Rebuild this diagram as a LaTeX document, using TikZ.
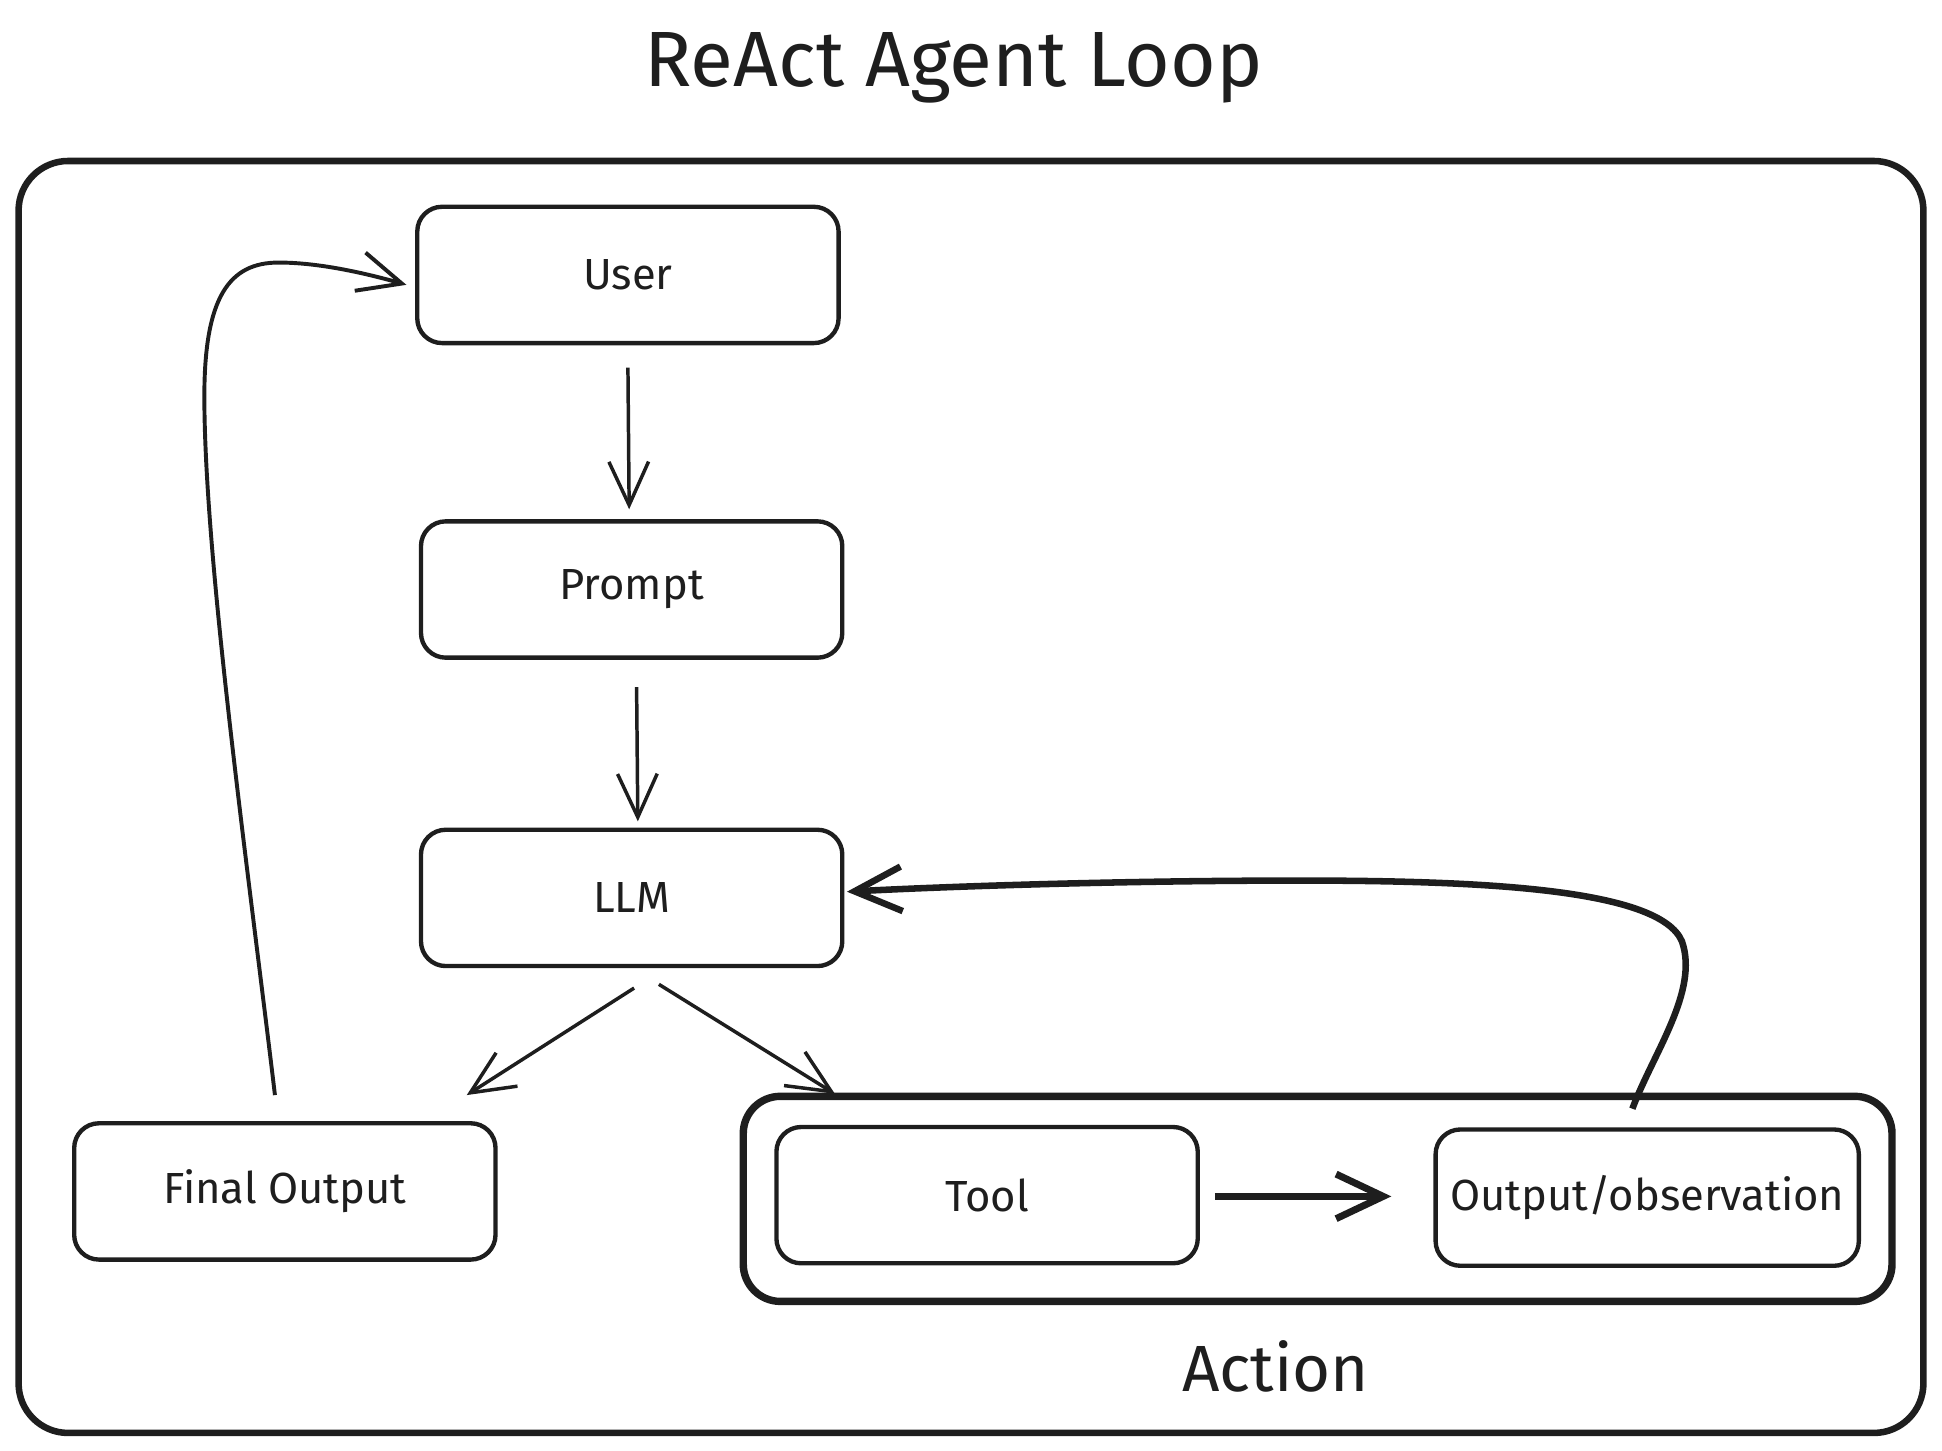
\documentclass[tikz,border=0pt]{standalone}
\usepackage{fontspec}
\setmainfont{Fira Sans}
\usetikzlibrary{arrows.meta,calc,fit}
\definecolor{ink}{HTML}{1E1E1E}

\begin{document}
\begin{tikzpicture}[x=0.01cm,y=-0.01cm,line width=1pt,color=ink,
    box/.style={draw,rounded corners=0.2cm,minimum width=3.4cm,minimum height=1.1cm,font=\fontsize{10}{12}\selectfont},
    flow/.style={-{Straight Barb[length=3.5mm,width=3.2mm]},line width=.8pt},
    bold flow/.style={-{Straight Barb[length=3.8mm,width=3.6mm]},line width=1.6pt},
    container/.style={draw,rounded corners=0.3cm,line width=1.7pt}]
  \useasboundingbox (0,0) rectangle (1568,1171);

  \node[font=\fontsize{18}{22}\selectfont,anchor=base] (title) at (770,70) {ReAct Agent Loop};
  \draw[rounded corners=0.4cm,line width=1.5pt] (15,130) rectangle (1553,1157);

  \node[box] (user) at (507,222) {User};
  \node[box] (prompt) at (510,476) {Prompt};
  \node[box] (llm) at (510,725) {LLM};
  \node[box] (final) at (230,962) {Final Output};
  \node[box] (tool) at (797,965) {Tool};
  \node[box] (obs) at (1330,967) {Output/observation};

  \node[container,fit=(tool)(obs),inner sep=0.25cm,yshift=-0.02cm] (action) {};
  \node[font=\fontsize{15}{18}\selectfont] (actionlabel) at (1030,1103) {Action};

  \draw[flow] ($(user.south)+(0,18)$) -- ($(prompt.north)+(-2,-8)$);
  \draw[flow] ($(prompt.south)+(4,22)$) -- ($(llm.north)+(5,-5)$);
  \draw[flow] ($(llm.south)+(2,16)$) -- ($(final.north east)+(-25,-21)$);
  \draw[flow] ($(llm.south)+(22,13)$) -- ($(action.north west)+(77,1)$);
  \draw[bold flow] ($(tool.east)+(12,1)$) -- ($(obs.west)+(-34,-1)$);
  \draw[bold flow,line width=1.5pt] ($(obs.north)+(-12,-15)$)
    .. controls (1335,850) and (1372,800) .. (1358,760)
    .. controls (1340,718) and (1200,711) .. (1050,711)
    .. controls (900,711) and (760,716) .. ($(llm.east)+(2,-5)$);
  \draw[flow,line width=.9pt] ($(final.north)+(-8,-21)$)
    .. controls (200,700) and (165,450) .. (165,320)
    .. controls (165,240) and (185,212) .. (225,212)
    .. controls (260,212) and (300,222) .. ($(user.west)+(-7,8)$);
\end{tikzpicture}
\end{document}
